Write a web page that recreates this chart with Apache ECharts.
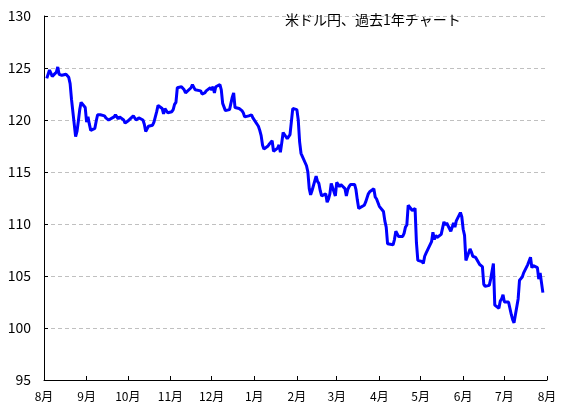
<!DOCTYPE html>
<html><head><meta charset="utf-8">
<script src="https://cdn.jsdelivr.net/npm/echarts@6/dist/echarts.min.js"></script>
<style>html,body{margin:0;padding:0;background:#fff}#c{width:567px;height:412px}</style>
</head><body><div id="c"></div>
<script>
const titleText = '米ドル円、過去1年チャート';
const axisStart = '2015-08-01';
const axisEnd = '2016-08-01';
const yMin = 95, yMax = 130, yStep = 5;
// monthly keys and daily closing values (one per weekday of that month)
const monthKeys = ['2015-08','2015-09','2015-10','2015-11','2015-12','2016-01','2016-02','2016-03','2016-04','2016-05','2016-06','2016-07'];
const aug2015 = [124.0,124.4,124.8,124.5,124.2, 124.6,125.1,124.4,124.4,124.3, 124.4,124.4,124.1,123.5,122.0, 118.4,118.9,119.9,121.0,121.7, 121.2];
const sep2015 = [119.8,120.3,119.6,119.0, 119.2,119.9,120.5,120.6,120.5, 120.4,120.2,120.2,120.0,120.0, 120.3,120.5,120.3,120.1,120.3, 120.0,119.7,119.8];
const oct2015 = [119.9,119.9, 120.4,120.3,120.0,120.1,120.2, 120.0,119.6,118.9,118.9,119.4, 119.5,119.8,119.9,120.8,121.4, 121.1,120.6,121.1,121.0,120.7];
const nov2015 = [120.8,121.0,121.5,121.7,123.1, 123.2,123.2,122.9,122.6,122.6, 123.1,123.4,123.5,122.9,122.8, 122.8,122.5,122.6,122.6,122.8, 123.1];
const dec2015 = [122.9,123.2,122.6,123.2, 123.4,122.9,121.6,121.6,120.9, 121.0,121.6,122.2,122.6,121.2, 121.1,121.1,120.9,120.7,120.3, 120.4,120.5,120.5,120.2];
const jan2016 = [120.2, 119.4,119.0,118.5,117.6,117.2, 117.5,117.7,117.8,118.0,117.0, 117.3,117.6,116.9,117.8,118.8, 118.2,118.4,118.6,118.7,121.1];
const feb2016 = [121.0,120.0,117.9,116.8,116.9, 115.6,115.0,113.4,112.8,113.2, 114.6,114.1,113.9,113.2,112.7, 112.9,112.1,112.4,112.9,113.9, 112.7];
const mar2016 = [114.0,113.9,113.6,113.8, 113.4,112.7,113.3,113.6,113.8, 113.8,113.3,112.3,111.5,111.5, 111.8,112.1,112.5,112.9,113.1, 113.4,112.6,112.4,112.3];
const apr2016 = [111.7, 111.2,110.3,109.7,108.1,108.1, 108.0,108.5,109.3,109.4,108.8, 108.8,109.1,109.7,109.9,111.8, 111.3,111.2,111.5,108.2,106.5];
const may2016 = [106.4,106.2,106.9,107.2,107.2, 108.3,109.2,108.5,108.9,108.7, 109.0,109.1,110.2,109.9,110.1, 109.3,109.3,110.1,109.7,110.3, 111.1,110.7];
const jun2016 = [109.5,108.9,106.5, 107.6,107.3,106.9,107.0,106.8, 106.1,106.0,105.9,104.2,104.0, 104.1,104.7,104.6,106.2,102.2, 101.9,102.6,102.8,103.2];
const jul2016 = [102.5, 102.5,101.9,101.3,100.8,100.5, 102.8,104.6,104.7,104.9,105.3, 106.1,106.2,106.8,105.8,106.0, 105.8,104.7,105.3,105.3,103.4];
const monthValues = [aug2015,sep2015,oct2015,nov2015,dec2015,jan2016,feb2016,mar2016,apr2016,may2016,jun2016,jul2016];

// build calendar categories (every day) and align values to weekdays
const DAY = 86400000;
const t0 = Date.parse(axisStart + 'T00:00:00Z'), t1 = Date.parse(axisEnd + 'T00:00:00Z');
const categories = [];
for (let t = t0; t <= t1; t += DAY) categories.push(new Date(t).toISOString().slice(0, 10));
const seriesData = categories.map(() => null);
monthKeys.forEach((key, mi) => {
  const vals = monthValues[mi];
  let k = 0;
  categories.forEach((c, i) => {
    if (c.slice(0, 7) !== key) return;
    const wd = new Date(c + 'T00:00:00Z').getUTCDay();
    if (wd >= 1 && wd <= 5 && k < vals.length) { seriesData[i] = vals[k++]; }
  });
});
const isMonthStart = (idx, val) => categories[idx].slice(8, 10) === '01';
const FONT = '"Noto Sans CJK JP", "Noto Sans", sans-serif';

const chart = echarts.init(document.getElementById('c'), null, {renderer: 'canvas'});
chart.setOption({
  animation: false,
  backgroundColor: '#ffffff',
  title: {
    text: titleText, left: 280, top: 8,
    textStyle: {fontSize: 14, fontWeight: 'normal', color: '#000', fontFamily: FONT}
  },
  grid: {left: 44, right: 20, top: 16, bottom: 32, containLabel: false},
  xAxis: {
    type: 'category', data: categories, boundaryGap: false,
    axisLine: {lineStyle: {color: '#000', width: 1}},
    axisTick: {show: true, inside: true, length: 4, interval: isMonthStart, lineStyle: {color: '#000'}},
    axisLabel: {
      interval: isMonthStart, margin: 10, fontSize: 12, color: '#000', fontFamily: FONT,
      formatter: v => parseInt(v.slice(5, 7), 10) + '月'
    },
    splitLine: {show: false}
  },
  yAxis: {
    type: 'value', min: yMin, max: yMax, interval: yStep,
    axisLine: {show: true, lineStyle: {color: '#000', width: 1}},
    axisTick: {show: true, inside: true, length: 4, lineStyle: {color: '#000'}},
    axisLabel: {fontSize: 14, color: '#000', margin: 13, fontFamily: FONT},
    splitLine: {show: true, lineStyle: {color: '#c0c0c0', width: 1, type: [4, 3]}}
  },
  series: [{
    type: 'line', data: seriesData, connectNulls: true, showSymbol: false, symbol: 'none',
    lineStyle: {color: '#0000ff', width: 3}, z: 3
  }]
});
</script></body></html>
